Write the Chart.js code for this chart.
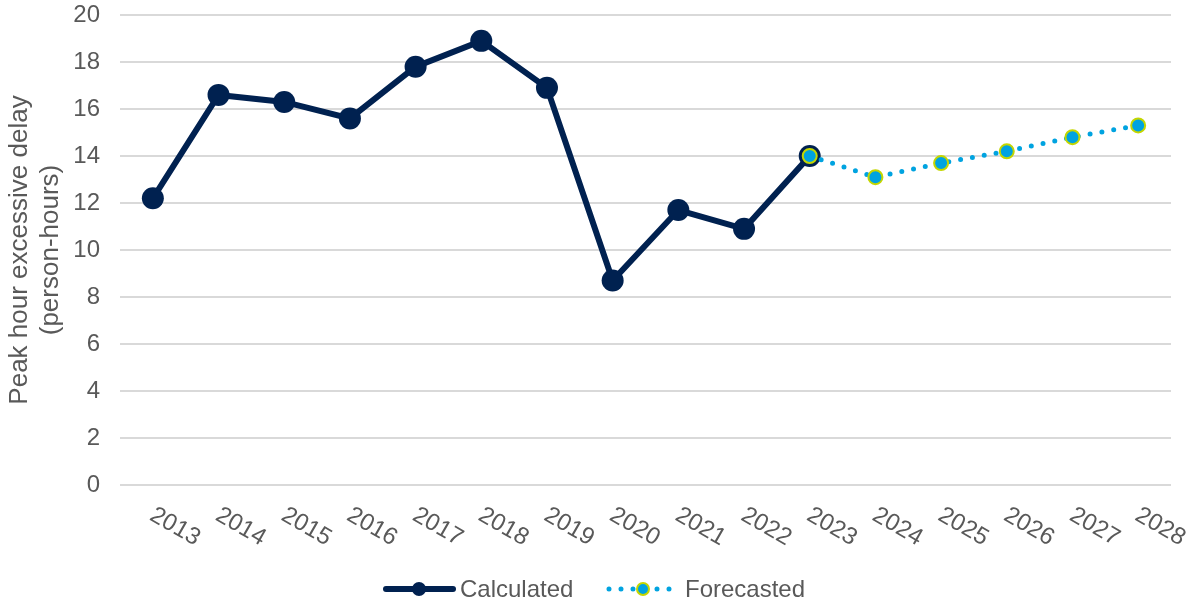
<!DOCTYPE html>
<html>
<head>
<meta charset="utf-8">
<script src="https://cdn.jsdelivr.net/npm/chart.js@4"></script>
<style>
  html, body { margin: 0; padding: 0; background: #fff; }
  #wrap { width: 1192px; height: 603px; position: relative; }
</style>
</head>
<body>
<div id="wrap"><canvas id="delayChart"></canvas></div>
<script>
// Peak hour excessive delay chart

/* ---------------------------
   CHART DATA
---------------------------*/
const years = ['2013', '2014', '2015', '2016', '2017', '2018', '2019', '2020',
               '2021', '2022', '2023', '2024', '2025', '2026', '2027', '2028'];
const calculated = [12.2, 16.6, 16.3, 15.6, 17.8, 18.9, 16.9, 8.7, 11.7, 10.9, 14.0,
                    null, null, null, null, null];
const forecasted = [null, null, null, null, null, null, null, null, null, null, 14.0,
                    13.1, 13.7, 14.2, 14.8, 15.3];
const yTicks = [0, 2, 4, 6, 8, 10, 12, 14, 16, 18, 20];
const yTitle = ['Peak hour excessive delay', '(person-hours)'];
const seriesNames = ['Calculated', 'Forecasted'];

const NAVY = '#002150';
const CYAN = '#00a3e0';
const LIME = '#c4d600';
const TEXT = '#595959';
const FONT = '"Liberation Sans", Arial, sans-serif';

/* ---------------------------
   CUSTOM DRAWING (rotated labels, axis title, legend)
---------------------------*/
const extras = {
    id: 'extras',
    afterDraw(chart) {
        const ctx = chart.ctx;
        const x = chart.scales.x;
        const area = chart.chartArea;

        ctx.save();
        ctx.fillStyle = TEXT;
        ctx.font = '24px ' + FONT;

        // x labels, rotated downward
        years.forEach((yr, i) => {
            const px = x.getPixelForValue(i);
            ctx.save();
            ctx.translate(px + 5, area.bottom + 18);
            ctx.rotate(Math.PI / 6);
            ctx.textAlign = 'left';
            ctx.textBaseline = 'top';
            ctx.fillText(yr, 0, 0);
            ctx.restore();
        });

        // y title
        const midY = (area.top + area.bottom) / 2;
        ctx.save();
        ctx.font = '26px ' + FONT;
        ctx.translate(0, midY);
        ctx.rotate(-Math.PI / 2);
        ctx.textAlign = 'center';
        ctx.textBaseline = 'middle';
        ctx.fillText(yTitle[0], 0, 20);
        ctx.fillText(yTitle[1], 0, 51);
        ctx.restore();

        // legend
        const ly = 589;
        ctx.textBaseline = 'middle';
        ctx.textAlign = 'left';

        ctx.strokeStyle = NAVY;
        ctx.lineWidth = 6;
        ctx.lineCap = 'round';
        ctx.beginPath();
        ctx.moveTo(386, ly);
        ctx.lineTo(453, ly);
        ctx.stroke();
        ctx.fillStyle = NAVY;
        ctx.beginPath();
        ctx.arc(419, ly, 7, 0, Math.PI * 2);
        ctx.fill();
        ctx.fillStyle = TEXT;
        ctx.fillText(seriesNames[0], 460, ly + 1);

        ctx.strokeStyle = CYAN;
        ctx.lineWidth = 5;
        ctx.setLineDash([0, 12]);
        ctx.beginPath();
        ctx.moveTo(609, ly);
        ctx.lineTo(673, ly);
        ctx.stroke();
        ctx.setLineDash([]);
        ctx.fillStyle = CYAN;
        ctx.strokeStyle = LIME;
        ctx.lineWidth = 2;
        ctx.beginPath();
        ctx.arc(643, ly, 6, 0, Math.PI * 2);
        ctx.fill();
        ctx.stroke();
        ctx.fillStyle = TEXT;
        ctx.fillText(seriesNames[1], 685, ly + 1);

        ctx.restore();
    }
};

/* ---------------------------
   INITIALIZE CHART
---------------------------*/
function initializeChart() {
    const ctx = document.getElementById('delayChart');

    return new Chart(ctx, {
        type: 'line',
        data: {
            labels: years,
            datasets: [{
                label: seriesNames[0],
                data: calculated,
                borderColor: NAVY,
                backgroundColor: NAVY,
                borderWidth: 6,
                pointRadius: 11,
                pointBorderWidth: 0,
                pointBackgroundColor: NAVY,
                tension: 0,
                order: 2
            }, {
                label: seriesNames[1],
                data: forecasted,
                borderColor: CYAN,
                backgroundColor: CYAN,
                borderWidth: 5,
                borderDash: [0, 12],
                borderCapStyle: 'round',
                pointRadius: 7,
                pointBorderWidth: 2,
                pointBorderColor: LIME,
                pointBackgroundColor: CYAN,
                tension: 0,
                order: 1
            }]
        },
        options: {
            responsive: true,
            maintainAspectRatio: false,
            animation: false,
            layout: { padding: { top: 15, right: 21, left: 0, bottom: 0 } },
            plugins: {
                legend: { display: false },
                tooltip: { enabled: false }
            },
            scales: {
                x: {
                    offset: true,
                    grid: { display: false },
                    border: { display: false },
                    ticks: { display: false },
                    afterFit: s => { s.height = 118; }
                },
                y: {
                    min: 0,
                    max: 20,
                    afterBuildTicks: s => { s.ticks = yTicks.map(v => ({ value: v })); },
                    grid: { color: '#d9d9d9', lineWidth: 2, drawTicks: false },
                    border: { display: false },
                    ticks: {
                        color: TEXT,
                        padding: 20,
                        font: { size: 24, family: FONT }
                    },
                    afterFit: s => {
                        s.width = 120;
                        s.paddingTop = 0;
                        s.paddingBottom = 0;
                    }
                }
            }
        },
        plugins: [extras]
    });
}

initializeChart();
</script>
</body>
</html>
